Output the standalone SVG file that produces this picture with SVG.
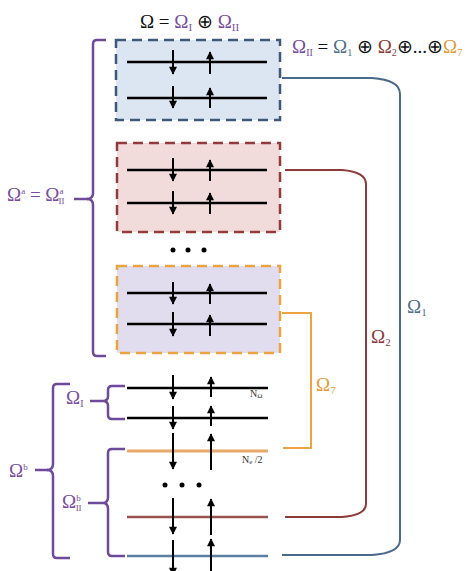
<svg xmlns="http://www.w3.org/2000/svg" width="475" height="571" viewBox="0 0 475 571">
<defs>
<marker id="ah" viewBox="0 0 10 10" refX="9" refY="5" markerWidth="4.5" markerHeight="4" orient="auto" markerUnits="strokeWidth">
<path d="M0,0 L10,5 L0,10 Z" fill="#000"/>
</marker>
<style>
.t{font-family:"Liberation Serif","Times New Roman",serif;font-size:19px}
.p{fill:#7a4c9e}
.k{fill:#111}
.b{fill:#4f6f8f}
.r{fill:#8b3a3a}
.o{fill:#e89a3a}
.br{fill:none;stroke:#6e4a9a;stroke-width:2.5}
.lv{stroke:#000;stroke-width:2.5}
.ar{stroke:#000;stroke-width:2;marker-end:url(#ah)}
.box{stroke-width:2.5;stroke-dasharray:10,6}
.small{font-family:"Liberation Serif",serif;font-size:10px;fill:#333}
</style>
</defs>
<rect width="475" height="571" fill="#fff"/>

<g id="title">
<text class="t" x="140" y="28"><tspan class="k">Ω = </tspan><tspan class="p">Ω<tspan font-size="11" dy="3">I</tspan></tspan><tspan class="k" dy="-3"> ⊕ </tspan><tspan class="p">Ω<tspan font-size="11" dy="3">II</tspan></tspan></text>
</g>
<g id="omegaII-def">
<text class="t" x="292" y="53" font-size="19"><tspan class="p">Ω<tspan font-size="10" dy="3">II</tspan></tspan><tspan class="k" dy="-3"> = </tspan><tspan class="b">Ω<tspan font-size="10" dy="3">1</tspan></tspan><tspan class="k" dy="-3"> ⊕ </tspan><tspan class="r">Ω<tspan font-size="10" dy="3">2</tspan></tspan><tspan class="k" dy="-3">⊕...⊕</tspan><tspan class="o">Ω<tspan font-size="10" dy="3">7</tspan></tspan></text>
</g>

<g id="box-blue">
<rect class="box" x="116" y="40" width="164" height="80" fill="#dce6f2" stroke="#3f5878"/>
<line class="lv" x1="127" y1="62" x2="267" y2="62"/>
<line class="lv" x1="127" y1="98" x2="267" y2="98"/>
<line class="ar" x1="173" y1="50" x2="173" y2="74"/>
<line class="ar" x1="210" y1="74" x2="210" y2="52"/>
<line class="ar" x1="173" y1="86" x2="173" y2="108"/>
<line class="ar" x1="210" y1="108" x2="210" y2="88"/>
</g>

<g id="box-red">
<rect class="box" x="117" y="143" width="163" height="89" fill="#f2dcdb" stroke="#943a3a"/>
<line class="lv" x1="127" y1="170" x2="267" y2="170"/>
<line class="lv" x1="127" y1="203" x2="267" y2="203"/>
<line class="ar" x1="173" y1="158" x2="173" y2="181"/>
<line class="ar" x1="210" y1="181" x2="210" y2="160"/>
<line class="ar" x1="173" y1="191" x2="173" y2="214"/>
<line class="ar" x1="210" y1="214" x2="210" y2="193"/>
</g>

<g id="dots-top">
<circle cx="173" cy="250" r="2.5" fill="#000"/>
<circle cx="188" cy="250" r="2.5" fill="#000"/>
<circle cx="204" cy="250" r="2.5" fill="#000"/>
</g>

<g id="box-orange">
<rect class="box" x="117" y="266" width="163" height="87" fill="#e1ddee" stroke="#eda340"/>
<line class="lv" x1="127" y1="293" x2="267" y2="293"/>
<line class="lv" x1="127" y1="324" x2="267" y2="324"/>
<line class="ar" x1="173" y1="282" x2="173" y2="304"/>
<line class="ar" x1="210" y1="304" x2="210" y2="284"/>
<line class="ar" x1="173" y1="312" x2="173" y2="336"/>
<line class="ar" x1="210" y1="336" x2="210" y2="315"/>
</g>

<g id="levels-b">
<line class="lv" x1="127" y1="388" x2="268" y2="388"/>
<line class="lv" x1="127" y1="418" x2="268" y2="418"/>
<line x1="127" y1="451" x2="268" y2="451" stroke="#e8a868" stroke-width="3"/>
<line x1="127" y1="517" x2="268" y2="517" stroke="#9b5050" stroke-width="2.5"/>
<line x1="127" y1="556" x2="268" y2="556" stroke="#5a7fa2" stroke-width="2.5"/>
<line class="ar" x1="173" y1="375" x2="173" y2="399"/>
<line class="ar" x1="211" y1="397" x2="211" y2="377"/>
<line class="ar" x1="173" y1="406" x2="173" y2="429"/>
<line class="ar" x1="211" y1="426" x2="211" y2="406"/>
<line class="ar" x1="173" y1="433" x2="173" y2="469"/>
<line class="ar" x1="211" y1="470" x2="211" y2="434"/>
<line class="ar" x1="173" y1="498" x2="173" y2="534"/>
<line class="ar" x1="211" y1="535" x2="211" y2="499"/>
<line class="ar" x1="173" y1="540" x2="173" y2="575"/>
<line class="ar" x1="211" y1="575" x2="211" y2="539"/>
<circle cx="165" cy="485" r="2.5" fill="#000"/>
<circle cx="182" cy="485" r="2.5" fill="#000"/>
<circle cx="199" cy="485" r="2.5" fill="#000"/>
<text class="small" x="250" y="397">N<tspan font-size="7" dy="1">Ω</tspan></text>
<text class="small" x="242" y="463">N<tspan font-size="7" dy="1">e</tspan><tspan dy="-1"> /2</tspan></text>
</g>

<g id="connectors" fill="none">
<path d="M282,78 H372 Q400,80 400,94 V540 Q400,553 372,555 H282" stroke="#4a6a8c" stroke-width="2"/>
<path d="M285,170 H342 Q366,172 366,184 V504 Q366,515 342,517 H285" stroke="#8c3a3a" stroke-width="2"/>
<path d="M282,313 H311 V448 H283" stroke="#eda340" stroke-width="2"/>
</g>

<g id="conn-labels">
<text class="t b" x="407" y="313">Ω<tspan font-size="11" dy="3">1</tspan></text>
<text class="t r" x="371" y="343">Ω<tspan font-size="11" dy="3">2</tspan></text>
<text class="t o" x="316" y="391">Ω<tspan font-size="11" dy="3">7</tspan></text>
</g>

<g id="bracket-a">
<path class="br" d="M106,40 H97 Q93,40 93,44 V193 Q93,199 87,199 Q93,199 93,205 V352 Q93,356 97,356 H106"/>
<line x1="74" y1="199" x2="88" y2="199" stroke="#6e4a9a" stroke-width="2.5"/>
<text class="t p" x="7" y="201" font-size="18">Ω<tspan font-size="9" dy="-7">a</tspan><tspan dy="7"> = Ω</tspan><tspan font-size="9" dy="-7">a</tspan><tspan font-size="9" dx="-5" dy="10">II</tspan></text>
</g>

<g id="bracket-b">
<path class="br" d="M70,384 H57 Q53,384 53,388 V464 Q53,470 47,470 Q53,470 53,476 V554 Q53,558 57,558 H70"/>
<line x1="35" y1="470" x2="48" y2="470" stroke="#6e4a9a" stroke-width="2.5"/>
<text class="t p" x="9" y="477" font-size="18">Ω<tspan font-size="9" dy="-7">b</tspan></text>
</g>

<g id="bracket-I">
<path class="br" d="M125,386 H112 Q108,386 108,390 V396 Q108,401 103,401 Q108,401 108,406 V415 Q108,419 112,419 H125"/>
<line x1="90" y1="401" x2="103" y2="401" stroke="#6e4a9a" stroke-width="2.5"/>
<text class="t p" x="66" y="404" font-size="18">Ω<tspan font-size="10" dy="3">I</tspan></text>
</g>

<g id="bracket-IIb">
<path class="br" d="M125,449 H112 Q108,449 108,453 V497 Q108,503 103,503 Q108,503 108,509 V552 Q108,556 112,556 H125"/>
<line x1="88" y1="503" x2="103" y2="503" stroke="#6e4a9a" stroke-width="2.5"/>
<text class="t p" x="62" y="508" font-size="18">Ω<tspan font-size="9" dy="-7">b</tspan><tspan font-size="9" dx="-5" dy="10">II</tspan></text>
</g>
</svg>
